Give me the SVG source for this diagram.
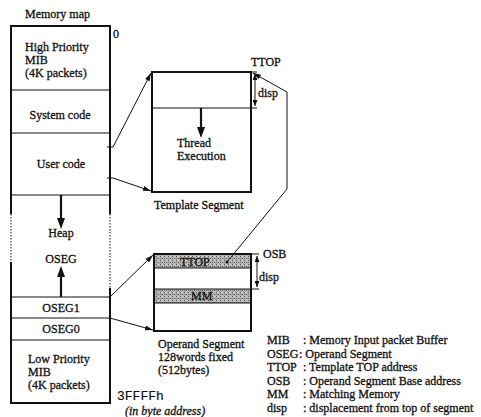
<svg xmlns="http://www.w3.org/2000/svg" width="481" height="417" viewBox="0 0 481 417">
<style>
text{font-family:"Liberation Serif","Times New Roman",serif;font-size:12px;fill:#111;stroke:#111;stroke-width:0.3}
.mono{font-family:"Liberation Mono","Courier New",monospace;font-size:13px;stroke-width:0.2}
.it{font-style:italic}
.mid{text-anchor:middle}
.box{fill:none;stroke:#111;stroke-width:2}
.div{fill:none;stroke:#111;stroke-width:1}
.dot{fill:none;stroke:#111;stroke-width:1;stroke-dasharray:1.5 1.5}
.con{fill:none;stroke:#111;stroke-width:1}
.thick{fill:none;stroke:#111;stroke-width:2.2}
.head{fill:#111}
</style>
<defs>
<marker id="ah" markerWidth="8" markerHeight="6" refX="8" refY="3" orient="auto" markerUnits="userSpaceOnUse">
<path d="M0,0.5 L8,3 L0,5.5 z" fill="#111"/>
</marker>
<marker id="da" markerWidth="6" markerHeight="5" refX="6" refY="2.5" orient="auto-start-reverse" markerUnits="userSpaceOnUse">
<path d="M0,0 L6,2.5 L0,5 z" fill="#111"/>
</marker>
<pattern id="sh" width="4" height="4" patternUnits="userSpaceOnUse">
<rect width="4" height="4" fill="#b4b4b4"/>
<rect x="0" y="0" width="1" height="1" fill="#555"/>
<rect x="2" y="2" width="1" height="1" fill="#555"/>
<rect x="2" y="0" width="1" height="1" fill="#e2e2e2"/>
<rect x="0" y="2" width="1" height="1" fill="#7a7a7a"/>
</pattern>
</defs>

<g id="memory-map">
<text x="25" y="18">Memory map</text>
<path class="box" d="M11,214 V26 H110 V214 M11,262 V403 H110 V288"/>
<path class="dot" d="M11,214 V262 M110,214 V288"/>
<path class="div" d="M11,90 H110 M11,133 H110 M11,195 H110 M11,297 H110 M11,318 H110 M11,340 H110"/>
<text x="113" y="38">0</text>
<g id="high-mib">
<text x="25" y="51">High Priority</text>
<text x="25" y="64">MIB</text>
<text x="25" y="77">(4K packets)</text>
</g>
<g id="system-code"><text x="60" y="119" class="mid">System code</text></g>
<g id="user-code"><text x="61" y="168" class="mid">User code</text></g>
<g id="heap">
<line class="thick" x1="61" y1="195" x2="61" y2="219"/>
<polygon class="head" points="57,218 65,218 61,229"/>
<text x="61" y="237" class="mid">Heap</text>
<text x="61" y="263" class="mid">OSEG</text>
<line class="thick" x1="61" y1="297" x2="61" y2="276"/>
<polygon class="head" points="57,277 65,277 61,266"/>
</g>
<g id="oseg1"><text x="61" y="312" class="mid">OSEG1</text></g>
<g id="oseg0"><text x="61" y="333" class="mid">OSEG0</text></g>
<g id="low-mib">
<text x="28" y="363">Low Priority</text>
<text x="28" y="376">MIB</text>
<text x="28" y="389">(4K packets)</text>
</g>
<text x="117" y="400" class="mono">3FFFFh</text>
<text x="125" y="415" class="it">(in byte address)</text>
</g>

<g id="template-segment">
<rect class="box" x="152" y="72" width="99" height="120"/>
<path class="div" d="M152,108 H257 M251,72 H257"/>
<line class="con" x1="255" y1="74" x2="255" y2="106" marker-start="url(#da)" marker-end="url(#da)"/>
<text x="251" y="66">TTOP</text>
<text x="258" y="97">disp</text>
<line class="thick" x1="201" y1="108" x2="201" y2="128"/>
<polygon class="head" points="197,127 205,127 201,138"/>
<text x="177" y="147">Thread</text>
<text x="177" y="160">Execution</text>
<text x="154" y="209">Template Segment</text>
</g>

<g id="operand-segment">
<rect x="154" y="254" width="97" height="14" fill="url(#sh)"/>
<rect x="154" y="289" width="97" height="14" fill="url(#sh)"/>
<rect class="box" x="154" y="254" width="97" height="77"/>
<path class="div" d="M154,268 H251 M154,289 H259 M251,254 H259 M154,303 H251"/>
<line class="con" x1="257" y1="256" x2="257" y2="287" marker-start="url(#da)" marker-end="url(#da)"/>
<text x="180" y="266">TTOP</text>
<circle cx="227" cy="262" r="1.5" fill="#111"/>
<text x="191" y="300">MM</text>
<text x="263" y="258">OSB</text>
<text x="259" y="281">disp</text>
<text x="158" y="348">Operand Segment</text>
<text x="158" y="361">128words fixed</text>
<text x="158" y="374">(512bytes)</text>
</g>

<g id="connectors">
<path class="con" d="M107,147 H113 L151,73" marker-end="url(#ah)"/>
<path class="con" d="M107,178 H113 L151,191" marker-end="url(#ah)"/>
<path class="con" d="M110,297 L153,255" marker-end="url(#ah)"/>
<path class="con" d="M110,318 L153,330" marker-end="url(#ah)"/>
<path class="con" d="M227,262 L287,189 V92 L253,73" marker-end="url(#ah)"/>
</g>

<g id="legend">
<text x="267" y="344">MIB</text><text x="303" y="344">: Memory Input packet Buffer</text>
<text x="267" y="358">OSEG</text><text x="299" y="358">: Operand Segment</text>
<text x="267" y="371">TTOP</text><text x="303" y="371">: Template TOP address</text>
<text x="267" y="385">OSB</text><text x="303" y="385">: Operand Segment Base address</text>
<text x="267" y="398">MM</text><text x="303" y="398">: Matching Memory</text>
<text x="267" y="412">disp</text><text x="303" y="412">: displacement from top of segment</text>
</g>
</svg>
